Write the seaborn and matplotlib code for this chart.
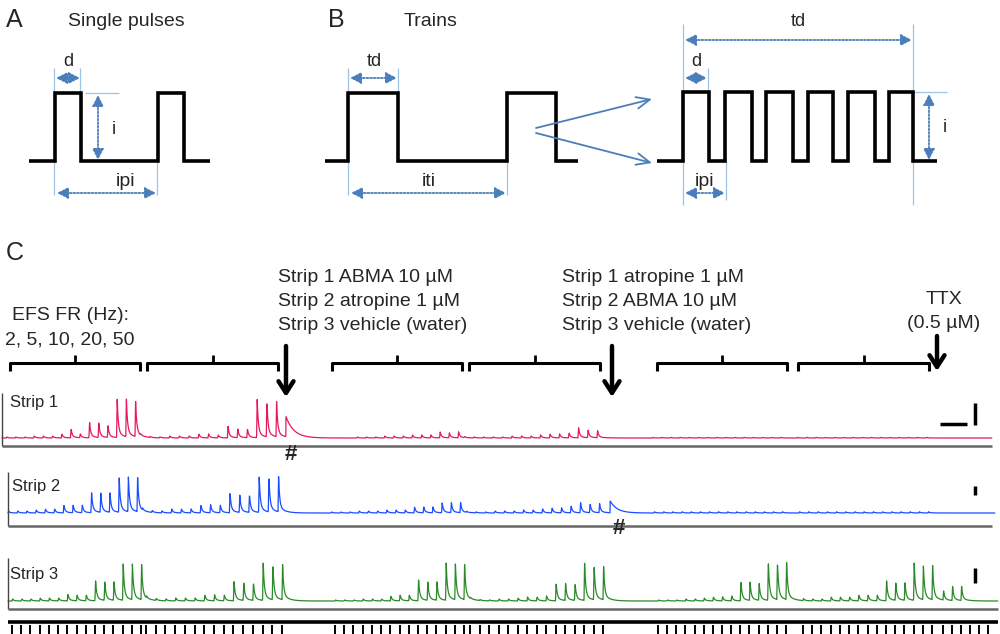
import numpy as np
import pandas as pd
import matplotlib
matplotlib.use("Agg")
import matplotlib.pyplot as plt
import seaborn as sns

sns.set_theme(style="white")
plt.rcParams['font.family'] = ['Liberation Sans', 'DejaVu Sans']

# ---------------- data ----------------
freq_labels = "2, 5, 10, 20, 50"
group_first = [12, 146, 335, 470, 658, 803]     # first stimulus of each EFS series
group_last = [141, 282, 464, 603, 786, 932]     # last stimulus of each EFS series
ttx_stims = [943, 952, 961, 970, 979, 988]      # stimuli after TTX

strip1_amps = [
    [1, 1, 1, 2, 2, 2, 4, 9, 4, 16, 15, 12, 39, 38, 35],
    [1, 1, 1, 2, 2, 2, 4, 4, 3, 12, 9, 9, 39, 36, 35],
    [0, 0, 0, 1, 1, 1, 2, 2, 2, 3, 3, 3, 6, 5, 6],
    [1, 1, 1, 1, 1, 2, 2, 2, 3, 4, 4, 5, 10, 8, 7],
    [0.6] * 15,
    [0.6] * 15,
]
strip2_amps = [
    [2, 2, 2, 3, 4, 4, 8, 8, 8, 21, 20, 20, 35, 35, 34],
    [2, 2, 2, 4, 4, 4, 8, 8, 8, 20, 18, 18, 36, 36, 35],
    [1, 1, 1, 2, 2, 2, 3, 3, 3, 6, 6, 6, 10, 10, 10],
    [1, 1, 1, 2, 2, 2, 3, 3, 4, 5, 5, 7, 10, 9, 9],
    [1.2] * 15,
    [1.2] * 15,
]
strip3_amps = [
    [2, 2, 2, 3, 3, 3, 7, 6, 6, 21, 19, 19, 37, 36, 35],
    [2, 2, 2, 3, 3, 3, 6, 6, 6, 20, 18, 18, 38, 36, 35],
    [1, 1, 1, 2, 2, 2, 5, 6, 6, 22, 19, 19, 38, 36, 35],
    [1, 1, 1, 2, 2, 3, 4, 4, 5, 18, 17, 17, 37, 35, 33],
    [1, 1, 1, 2, 2, 3, 4, 4, 5, 20, 19, 17, 39, 38, 37],
    [2, 2, 2, 4, 4, 4, 6, 6, 6, 21, 18, 18, 38, 34, 34],
]
strip3_ttx_amps = [9, 14, 14, 0, 0, 0]
strip_names = ["Strip 1", "Strip 2", "Strip 3"]
strip_colors = ["#e8185a", "#1a4dff", "#2a8a2a"]
strip_offsets = [-6, -4, 0]
strip_baselines = [438, 513, 601]
drug_events = [(286, 20, 8.0), (610, 12, 7.0)]   # (# position, amplitude, decay) strip1, strip2

text_drug1 = ["Strip 1 ABMA 10 \u00b5M", "Strip 2 atropine 1 \u00b5M", "Strip 3 vehicle (water)"]
text_drug2 = ["Strip 1 atropine 1 \u00b5M", "Strip 2 ABMA 10 \u00b5M", "Strip 3 vehicle (water)"]

BLUE = "#4a7ebb"
LBLUE = "#9dc3e6"

# ---------------- figure ----------------
fig = plt.figure(figsize=(10, 6.34), dpi=100)
ax = fig.add_axes([0, 0, 1, 1])
ax.set_xlim(0, 1000)
ax.set_ylim(634, 0)
ax.axis("off")


def line(xs, ys, **kw):
    ax.plot(xs, ys, solid_capstyle="butt", **kw)


def ext(x0, y0, x1, y1):
    line([x0, x1], [y0, y1], color=LBLUE, lw=0.9)


def dim(x0, y0, x1, y1):
    ax.annotate("", xy=(x1, y1), xytext=(x0, y0),
                arrowprops=dict(arrowstyle="<|-|>,head_length=0.55,head_width=0.28",
                                color=BLUE, lw=1.3, linestyle=(0, (1, 1)),
                                shrinkA=0, shrinkB=0))


def wave(xs, base, top, **kw):
    # xs: list of edges alternating rise/fall
    px, py = [xs[0]], [base]
    lvl = base
    for x in xs[1:-1]:
        px += [x, x]
        py += [lvl, top if lvl == base else base]
        lvl = top if lvl == base else base
    px.append(xs[-1]); py.append(lvl)
    line(px, py, color="black", lw=2.6, solid_joinstyle="miter", **kw)


# ---- Panel A ----
ax.text(6, 20, "A", fontsize=18, va="center", ha="left")
ax.text(68, 22, "Single pulses", fontsize=14, va="center", ha="left")
ext(54, 68, 54, 195); ext(80, 68, 80, 93); ext(85, 93, 119, 93); ext(157, 161, 157, 195)
wave([29, 55, 81, 158, 184, 210], 161, 93)
dim(56, 78, 80, 78)
ax.text(68, 62, "d", fontsize=13, ha="center", va="center")
dim(98, 95, 98, 160)
ax.text(114, 129, "i", fontsize=13, ha="center", va="center")
dim(57, 193, 156, 193)
ax.text(126, 181, "ipi", fontsize=14, ha="center", va="center")

# ---- Panel B ----
ax.text(328, 20, "B", fontsize=18, va="center", ha="left")
ax.text(404, 22, "Trains", fontsize=14, va="center", ha="left")
ext(348, 68, 348, 195); ext(398, 68, 398, 93); ext(507, 161, 507, 195)
wave([325, 348, 398, 507, 556, 578], 161, 93)
dim(350, 78, 397, 78)
ax.text(374, 62, "td", fontsize=13, ha="center", va="center")
dim(351, 193, 506, 193)
ax.text(429, 181, "iti", fontsize=14, ha="center", va="center")
for ye in (99, 163):
    ax.annotate("", xy=(652, ye), xytext=(536, 128 if ye < 130 else 133),
                arrowprops=dict(arrowstyle="->,head_length=0.8,head_width=0.35",
                                color=BLUE, lw=1.3, shrinkA=0, shrinkB=0))
ext(683, 24, 683, 205); ext(913, 24, 913, 205); ext(708, 68, 708, 92)
ext(726, 161, 726, 200); ext(913, 92, 947, 92)
wave([657, 683, 709, 725, 752, 766, 793, 808, 833, 848, 875, 889, 913, 937], 161, 92)
dim(685, 40, 912, 40)
ax.text(798, 22, "td", fontsize=13, ha="center", va="center")
dim(685, 78, 707, 78)
ax.text(696, 62, "d", fontsize=13, ha="center", va="center")
dim(685, 193, 725, 193)
ax.text(705, 181, "ipi", fontsize=14, ha="center", va="center")
dim(929, 94, 929, 160)
ax.text(945, 128, "i", fontsize=13, ha="center", va="center")

# ---- Panel C annotations ----
ax.text(6, 253, "C", fontsize=18, va="center", ha="left")
ax.text(70, 316, "EFS FR (Hz):", fontsize=14, ha="center", va="center")
ax.text(70, 340, freq_labels, fontsize=14, ha="center", va="center")
for i, s in enumerate(text_drug1):
    ax.text(278, 278 + 24 * i, s, fontsize=14, ha="left", va="center")
for i, s in enumerate(text_drug2):
    ax.text(562, 278 + 24 * i, s, fontsize=14, ha="left", va="center")
ax.text(944, 300, "TTX", fontsize=14, ha="center", va="center")
ax.text(944, 323, "(0.5 \u00b5M)", fontsize=14, ha="center", va="center")

bracket_bounds = [(10, 140), (147, 278), (332, 462), (469, 600), (657, 787), (798, 929)]
for b0, b1 in bracket_bounds:
    line([b0, b0, b1, b1], [371, 363, 363, 371], color="black", lw=2.2, solid_joinstyle="round")
    xm = (b0 + b1) / 2
    line([xm, xm], [363, 355], color="black", lw=2.0)

for xa, y0, y1 in [(286, 346, 397), (612, 346, 397), (937, 336, 371)]:
    ax.annotate("", xy=(xa, y1), xytext=(xa, y0),
                arrowprops=dict(arrowstyle="->,head_length=0.7,head_width=0.45",
                                color="black", lw=3.2, shrinkA=0, shrinkB=0))

# ---- traces ----
def spike(t, p, a):
    d = t - p
    out = np.zeros_like(t)
    rise = (d >= 0) & (d < 0.6)
    out[rise] = a * d[rise] / 0.6
    dec = d >= 0.6
    dd = d[dec] - 0.6
    out[dec] = a * (0.85 * np.exp(-dd / 1.1) + 0.15 * np.exp(-dd / 6.0))
    return out


stim_groups = [np.linspace(f, l, 15) for f, l in zip(group_first, group_last)]
all_amps = [strip1_amps, strip2_amps, strip3_amps]
x_ranges = [(2, 992), (8, 995), (8, 998)]

for k in range(3):
    t = np.arange(x_ranges[k][0], x_ranges[k][1], 0.2)
    y = np.zeros_like(t)
    for g in range(6):
        for p, a in zip(stim_groups[g] + strip_offsets[k], all_amps[k][g]):
            y += spike(t, p, a)
    if k == 2:
        for p, a in zip(ttx_stims, strip3_ttx_amps):
            y += spike(t, p, a)
    if k < 2:
        pe, ae, tau = drug_events[k]
        d = t - pe
        m = d >= 0
        y[m] += ae * np.exp(-d[m] / tau)
    df = pd.DataFrame({"x": t, "y": strip_baselines[k] - y})
    sns.lineplot(data=df, x="x", y="y", ax=ax, color=strip_colors[k], lw=0.9,
                 estimator=None, sort=False)

# strip frames
line([2, 2], [393, 446], color="#444444", lw=1.0)
line([2, 992], [446, 446], color="#666666", lw=1.8)
line([8, 8], [472, 526], color="#444444", lw=1.0)
line([8, 992], [526, 526], color="#666666", lw=1.8)
line([8, 8], [558, 609], color="#444444", lw=1.0)
line([8, 998], [609, 609], color="#666666", lw=1.8)
ax.text(10, 403, strip_names[0], fontsize=12, ha="left", va="center")
ax.text(12, 487, strip_names[1], fontsize=12, ha="left", va="center")
ax.text(10, 575, strip_names[2], fontsize=12, ha="left", va="center")
ax.text(291, 455, "#", fontsize=16, ha="center", va="center", fontweight="bold")
ax.text(619, 529, "#", fontsize=16, ha="center", va="center", fontweight="bold")

# scale bars
line([940, 967], [424, 424], color="black", lw=2.5)
line([975, 975], [403, 425], color="black", lw=2.5)
line([975, 975], [486, 495], color="black", lw=2.5)
line([975, 975], [568, 583], color="black", lw=2.5)

# stimulus marker row
line([8, 998], [622, 622], color="black", lw=2.6)
ticks = np.concatenate(stim_groups + [np.array(ttx_stims)])
for xt in ticks:
    line([xt, xt], [625, 634], color="black", lw=1.4)

fig.savefig("out.png", dpi=100)
